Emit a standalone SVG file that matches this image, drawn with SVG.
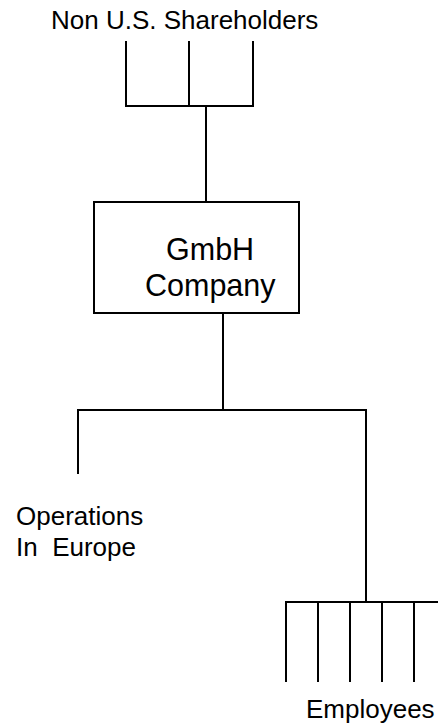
<svg xmlns="http://www.w3.org/2000/svg" width="438" height="725" viewBox="0 0 438 725">
<style>
.ln{stroke:#000;stroke-width:2;fill:none;stroke-linecap:butt}
.t{font-family:"Liberation Sans",Arial,sans-serif;fill:#000;font-size:26px}
.b{font-size:30.5px}
</style>
<rect width="438" height="725" fill="#fff"/>
<g id="shareholders">
<text class="t" x="51" y="29">Non U.S. Shareholders</text>
</g>
<g id="gmbh">
<rect class="ln" x="94" y="202" width="205" height="111"/>
<text class="t b" x="166" y="260">GmbH</text>
<text class="t b" x="145" y="296">Company</text>
</g>
<g id="operations">
<text class="t" x="16" y="525">Operations</text>
<text class="t" x="16" y="556" xml:space="preserve">In  Europe</text>
</g>
<g id="employees">
<text class="t" x="306" y="718">Employees</text>
</g>
<g id="connectors">
<path class="ln" d="M126 41V106H253V41M189 41V106M206 106V202"/>
<path class="ln" d="M223 313V410M78 474V410H366V602"/>
<path class="ln" d="M286 682V602H446M318 602V682M350 602V682M382 602V682M414 602V682"/>
</g>
</svg>
